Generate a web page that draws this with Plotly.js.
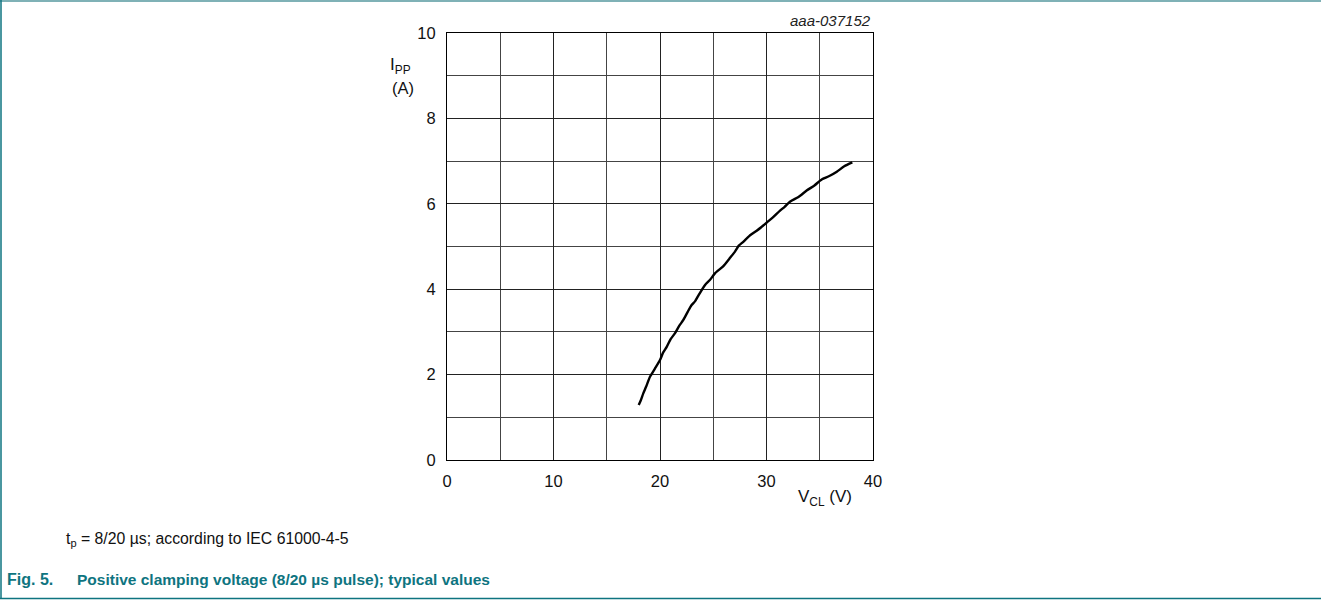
<!DOCTYPE html>
<html><head><meta charset="utf-8">
<script src="https://cdn.plot.ly/plotly-3.0.1.min.js"></script>
<style>html,body{margin:0;padding:0;background:#fff;overflow:hidden}#chart{width:1321px;height:601px}</style>
</head><body><div id="chart"></div>
<script>
// Clamping voltage V_CL (V)
const vcl = [18.0, 18.2, 18.43, 18.7, 19.06, 19.5, 20.0, 20.3, 20.63, 21.0, 21.41, 21.8, 22.19, 22.6, 22.97, 23.3, 23.6, 24.23, 24.7, 25.16, 25.95, 26.5, 27.04, 27.4, 27.82, 28.4, 29.08, 29.5, 30.02, 30.6, 31.27, 31.7, 32.2, 33.0, 33.77, 34.5, 35.18, 35.9, 36.6, 37.3, 38.06];
// Peak pulse current I_PP (A)
const ipp = [1.29, 1.40, 1.56, 1.72, 1.95, 2.13, 2.34, 2.52, 2.65, 2.83, 2.97, 3.14, 3.28, 3.47, 3.63, 3.72, 3.85, 4.10, 4.22, 4.37, 4.54, 4.71, 4.88, 5.02, 5.11, 5.25, 5.37, 5.45, 5.56, 5.68, 5.84, 5.93, 6.05, 6.16, 6.31, 6.43, 6.57, 6.65, 6.75, 6.88, 6.97];
const xTicks = [0, 10, 20, 30, 40];
const yTicks = [0, 2, 4, 6, 8, 10];

const W = 1321, H = 601, L = 447, R = 873, T = 33, B = 460;
const px = x => (x - L) / (R - L);
const py = y => (B - y) / (B - T);
const teal = '#0e7480';
const font = 'Liberation Sans, Arial, sans-serif';

const trace = {
  x: vcl, y: ipp, type: 'scatter', mode: 'lines',
  line: {color: '#000', width: 2.4, shape: 'spline', smoothing: 0.6},
  hoverinfo: 'skip'
};

const layout = {
  width: W, height: H,
  margin: {l: L, r: W - R, t: T, b: H - B, pad: 0},
  paper_bgcolor: '#fff', plot_bgcolor: '#fff',
  showlegend: false,
  font: {family: font, size: 16, color: '#111'},
  xaxis: {
    range: [0, 40], tickvals: xTicks, ticktext: xTicks.map(String),
    showgrid: true, gridcolor: '#222', gridwidth: 1,
    minor: {dtick: 5, showgrid: true, gridcolor: '#444', gridwidth: 1},
    showline: true, linecolor: '#000', linewidth: 1, mirror: true,
    ticks: '', zeroline: false, fixedrange: true, ticklabelstandoff: 6,
    tickfont: {family: font, size: 16.5, color: '#111'}
  },
  yaxis: {
    range: [0, 10], tickvals: yTicks, ticktext: yTicks.map(String),
    showgrid: true, gridcolor: '#222', gridwidth: 1,
    minor: {dtick: 1, showgrid: true, gridcolor: '#444', gridwidth: 1},
    showline: true, linecolor: '#000', linewidth: 1, mirror: true,
    ticks: '', zeroline: false, fixedrange: true, ticklabelstandoff: 7,
    tickfont: {family: font, size: 16.5, color: '#111'}
  },
  annotations: [
    {xref: 'paper', yref: 'paper', x: px(873), y: py(21), xanchor: 'right', yanchor: 'middle',
     text: '<i>aaa-037152</i>', showarrow: false, font: {family: font, size: 15, color: '#222'}},
    {xref: 'paper', yref: 'paper', x: px(388), y: py(66), xanchor: 'left', yanchor: 'middle',
     text: 'I<sub>PP</sub>', showarrow: false, font: {family: font, size: 17, color: '#111'}},
    {xref: 'paper', yref: 'paper', x: px(390), y: py(88), xanchor: 'left', yanchor: 'middle',
     text: '(A)', showarrow: false, font: {family: font, size: 16.5, color: '#111'}},
    {xref: 'paper', yref: 'paper', x: px(854), y: py(498), xanchor: 'right', yanchor: 'middle',
     text: 'V<sub>CL</sub> (V)', showarrow: false, font: {family: font, size: 17, color: '#111'}},
    {xref: 'paper', yref: 'paper', x: px(64), y: py(539), xanchor: 'left', yanchor: 'middle',
     text: 't<sub>p</sub> = 8/20 µs; according to IEC 61000-4-5', showarrow: false,
     font: {family: font, size: 15.8, color: '#111'}},
    {xref: 'paper', yref: 'paper', x: px(5), y: py(579), xanchor: 'left', yanchor: 'middle',
     text: '<b>Fig. 5.</b>', showarrow: false, font: {family: font, size: 16, color: teal}},
    {xref: 'paper', yref: 'paper', x: px(75), y: py(579), xanchor: 'left', yanchor: 'middle',
     text: '<b>Positive clamping voltage (8/20 µs pulse); typical values</b>', showarrow: false,
     font: {family: font, size: 15.5, color: teal}}
  ],
  shapes: [
    {type: 'line', xref: 'paper', yref: 'paper', x0: px(0), x1: px(W), y0: py(1), y1: py(1),
     line: {color: '#7fb1b6', width: 2}},
    {type: 'line', xref: 'paper', yref: 'paper', x0: px(1), x1: px(1), y0: py(0), y1: py(599),
     line: {color: teal, width: 1.5}},
    {type: 'line', xref: 'paper', yref: 'paper', x0: px(0), x1: px(W), y0: py(598.5), y1: py(598.5),
     line: {color: teal, width: 1.5}}
  ]
};

Plotly.newPlot('chart', [trace], layout, {displayModeBar: false, staticPlot: true});
</script></body></html>
